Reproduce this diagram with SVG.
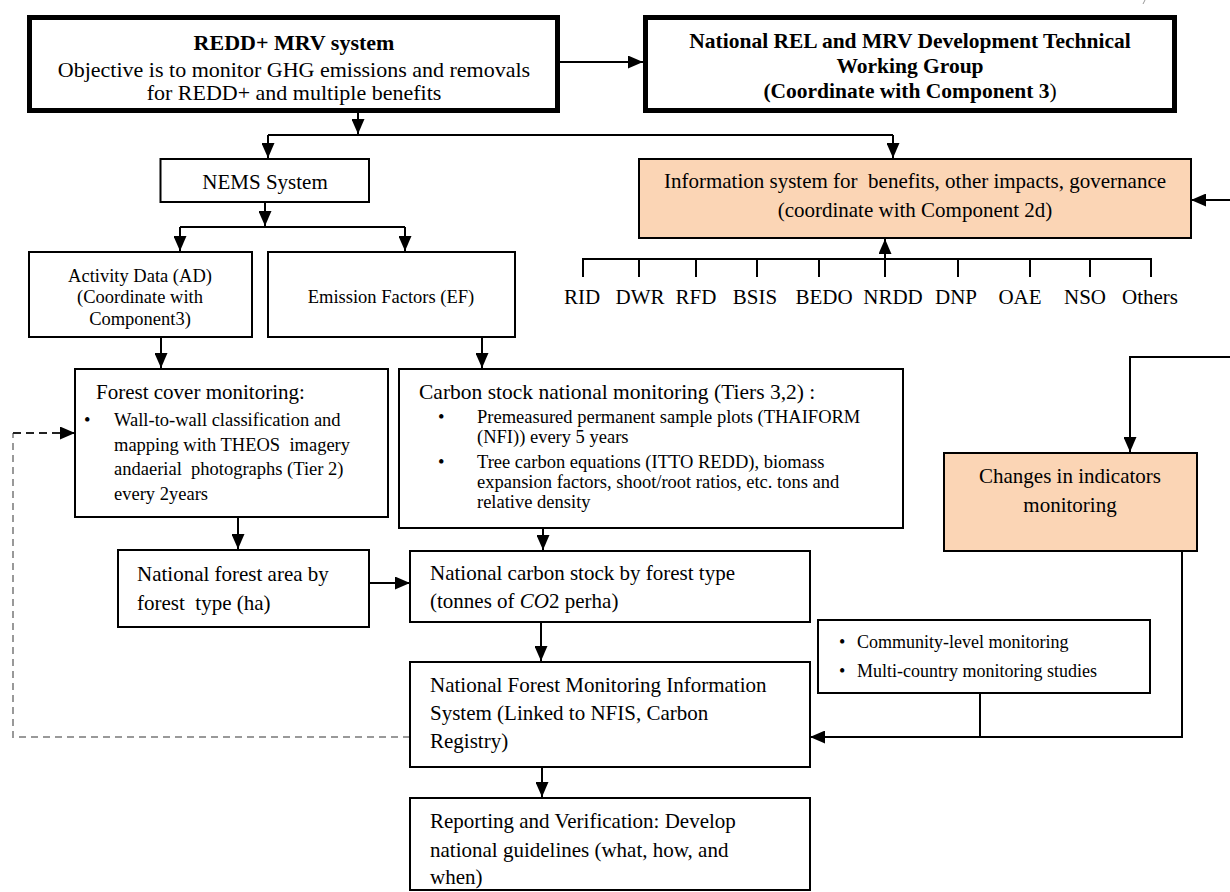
<svg xmlns="http://www.w3.org/2000/svg" width="1230" height="892" viewBox="0 0 1230 892">
  <style>
    .box { fill: #ffffff; stroke: #000000; stroke-width: 2; }
    .thick { stroke-width: 5; }
    .peach { fill: #FBD5B5; }
    .t { font-family: "Liberation Serif", "Times New Roman", serif; fill: #000000; }
    .c { text-anchor: middle; }
    .b { font-weight: bold; }
    .conn { fill: none; stroke: #000000; stroke-width: 2; }
    .arr { marker-end: url(#head); }
    .dashK { fill: none; stroke: #222222; stroke-width: 2; stroke-dasharray: 8 5; }
    .dashG { fill: none; stroke: #999999; stroke-width: 2; stroke-dasharray: 7 5; }
  </style>
  <defs>
    <marker id="head" markerUnits="userSpaceOnUse" markerWidth="15" markerHeight="13" refX="15" refY="6.5" orient="auto">
      <path d="M0,0 L15,6.5 L0,13 Z" fill="#000000"/>
    </marker>
  </defs>
  <rect width="1230" height="892" fill="#ffffff"/>

  <!-- connectors -->
  <g id="connectors">
    <!-- top row -->
    <line class="conn arr" x1="560" y1="62" x2="643" y2="62"/>
    <line class="conn arr" x1="358" y1="113" x2="358" y2="134"/>
    <line class="conn" x1="268" y1="135" x2="893" y2="135"/>
    <line class="conn arr" x1="268" y1="135" x2="268" y2="158"/>
    <line class="conn arr" x1="893" y1="135" x2="893" y2="158"/>
    <!-- NEMS split -->
    <line class="conn arr" x1="265" y1="202" x2="265" y2="226"/>
    <line class="conn" x1="180" y1="227" x2="405" y2="227"/>
    <line class="conn arr" x1="180" y1="227" x2="180" y2="251"/>
    <line class="conn arr" x1="405" y1="227" x2="405" y2="251"/>
    <!-- agencies bracket -->
    <path class="conn" d="M583,277 V259 H1151 V277 M639,259 V277 M696,259 V277 M757,259 V277 M819,259 V277 M885,259 V277 M958,259 V277 M1030,259 V277 M1090,259 V277"/>
    <line class="conn arr" x1="885" y1="259" x2="885" y2="239"/>
    <!-- into information system from the right -->
    <line class="conn arr" x1="1230" y1="200" x2="1191" y2="200"/>
    <!-- AD / EF down -->
    <line class="conn arr" x1="161" y1="337" x2="161" y2="368"/>
    <line class="conn arr" x1="482" y1="337" x2="482" y2="368"/>
    <!-- changes in indicators feed -->
    <polyline class="conn arr" points="1230,357 1130,357 1130,452"/>
    <!-- forest cover chain -->
    <line class="conn arr" x1="238" y1="517" x2="238" y2="549"/>
    <line class="conn arr" x1="369" y1="583" x2="410" y2="583"/>
    <line class="conn arr" x1="543" y1="528" x2="543" y2="550"/>
    <line class="conn arr" x1="541" y1="622" x2="541" y2="661"/>
    <line class="conn arr" x1="542" y1="767" x2="542" y2="797"/>
    <!-- monitoring inputs into NFMIS -->
    <polyline class="conn arr" points="1182,551 1182,737 810,737"/>
    <line class="conn" x1="980" y1="693" x2="980" y2="737"/>
    <!-- feedback loop (dashed) -->
    <polyline class="dashG" points="410,737 13,737 13,433"/>
    <line class="dashK" x1="13" y1="433" x2="62" y2="433"/>
    <line class="conn arr" x1="62" y1="433" x2="75" y2="433"/>
  </g>

  <g id="redd-mrv">
    <rect class="box thick" x="29.5" y="17.5" width="528" height="93"/>
    <text class="t c b" x="294" y="50" font-size="22">REDD+ MRV system</text>
    <text class="t c" x="294" y="77" font-size="22">Objective is to monitor GHG emissions and removals</text>
    <text class="t c" x="294" y="100" font-size="22">for REDD+ and multiple benefits</text>
  </g>

  <g id="twg">
    <rect class="box thick" x="645.5" y="17.5" width="529" height="93"/>
    <text class="t c b" x="910" y="48" font-size="21.5">National REL and MRV Development Technical</text>
    <text class="t c b" x="910" y="73" font-size="21.5">Working Group</text>
    <text class="t c" x="910" y="98" font-size="21.5"><tspan font-weight="bold">(Coordinate with Component 3</tspan>)</text>
  </g>
  <path d="M1145,0 L1143,4" stroke="#999999" stroke-width="1" fill="none"/>

  <g id="nems">
    <rect class="box" x="160.5" y="159" width="208.5" height="43"/>
    <text class="t c" x="265" y="189" font-size="21">NEMS System</text>
  </g>

  <g id="info-system">
    <rect class="box peach" x="639" y="159" width="552" height="79"/>
    <text class="t c" x="915" y="188" font-size="21" xml:space="preserve">Information system for  benefits, other impacts, governance</text>
    <text class="t c" x="915" y="217" font-size="21">(coordinate with Component 2d)</text>
  </g>

  <g id="agencies">
    <text class="t c" x="582" y="304" font-size="21">RID</text>
    <text class="t c" x="640" y="304" font-size="21">DWR</text>
    <text class="t c" x="696" y="304" font-size="21">RFD</text>
    <text class="t c" x="755" y="304" font-size="21">BSIS</text>
    <text class="t c" x="824" y="304" font-size="21">BEDO</text>
    <text class="t c" x="893" y="304" font-size="21">NRDD</text>
    <text class="t c" x="956" y="304" font-size="21">DNP</text>
    <text class="t c" x="1020" y="304" font-size="21">OAE</text>
    <text class="t c" x="1085" y="304" font-size="21">NSO</text>
    <text class="t c" x="1150" y="304" font-size="21">Others</text>
  </g>

  <g id="activity-data">
    <rect class="box" x="29" y="252" width="223" height="85"/>
    <text class="t c" x="140" y="282" font-size="18.5">Activity Data (AD)</text>
    <text class="t c" x="140" y="303" font-size="18.5">(Coordinate with</text>
    <text class="t c" x="140" y="325" font-size="18.5">Component3)</text>
  </g>

  <g id="emission-factors">
    <rect class="box" x="268" y="252" width="247" height="85"/>
    <text class="t c" x="391" y="303" font-size="18.5">Emission Factors (EF)</text>
  </g>

  <g id="forest-cover">
    <rect class="box" x="75" y="369" width="313" height="148"/>
    <text class="t" x="96" y="399" font-size="21">Forest cover monitoring:</text>
    <text class="t" x="84" y="426" font-size="18.5">•</text>
    <text class="t" x="114" y="426" font-size="18.5">Wall-to-wall classification and</text>
    <text class="t" x="114" y="450.5" font-size="18.5" xml:space="preserve">mapping with THEOS  imagery</text>
    <text class="t" x="114" y="475" font-size="18.5" xml:space="preserve">andaerial  photographs (Tier 2)</text>
    <text class="t" x="114" y="499.5" font-size="18.5">every 2years</text>
  </g>

  <g id="carbon-stock">
    <rect class="box" x="399" y="369" width="504" height="159"/>
    <text class="t" x="419" y="399" font-size="21.5">Carbon stock national monitoring (Tiers 3,2) :</text>
    <text class="t" x="438" y="423" font-size="18.5">•</text>
    <text class="t" x="477" y="423" font-size="18.5">Premeasured permanent sample plots (THAIFORM</text>
    <text class="t" x="477" y="443" font-size="18.5">(NFI)) every 5 years</text>
    <text class="t" x="438" y="468" font-size="18.5">•</text>
    <text class="t" x="477" y="468" font-size="18.5">Tree carbon equations (ITTO REDD), biomass</text>
    <text class="t" x="477" y="488" font-size="18.5">expansion factors, shoot/root ratios, etc. tons and</text>
    <text class="t" x="477" y="508" font-size="18.5">relative density</text>
  </g>

  <g id="indicator-changes">
    <rect class="box peach" x="944" y="453" width="253" height="98"/>
    <text class="t c" x="1070" y="483" font-size="21">Changes in indicators</text>
    <text class="t c" x="1070" y="512" font-size="21">monitoring</text>
  </g>

  <g id="forest-area">
    <rect class="box" x="118" y="550" width="251" height="77"/>
    <text class="t" x="137" y="581" font-size="21">National forest area by</text>
    <text class="t" x="137" y="610" font-size="21" xml:space="preserve">forest  type (ha)</text>
  </g>

  <g id="carbon-by-type">
    <rect class="box" x="410" y="551" width="400" height="71"/>
    <text class="t" x="430" y="580" font-size="21">National carbon stock by forest type</text>
    <text class="t" x="430" y="608" font-size="21">(tonnes of <tspan font-style="italic">CO</tspan>2 perha)</text>
  </g>

  <g id="community">
    <rect class="box" x="818" y="620" width="332" height="73"/>
    <text class="t" x="839" y="648" font-size="18">•</text>
    <text class="t" x="857" y="648" font-size="18">Community-level monitoring</text>
    <text class="t" x="839" y="677" font-size="18">•</text>
    <text class="t" x="857" y="677" font-size="18">Multi-country monitoring studies</text>
  </g>

  <g id="nfmis">
    <rect class="box" x="410" y="662" width="400" height="105"/>
    <text class="t" x="430" y="692" font-size="21">National Forest Monitoring Information</text>
    <text class="t" x="430" y="720" font-size="21">System (Linked to NFIS, Carbon</text>
    <text class="t" x="430" y="748" font-size="21">Registry)</text>
  </g>

  <g id="reporting">
    <rect class="box" x="410" y="798" width="400" height="92"/>
    <text class="t" x="430" y="828" font-size="21">Reporting and Verification: Develop</text>
    <text class="t" x="430" y="857" font-size="21">national guidelines (what, how, and</text>
    <text class="t" x="430" y="884" font-size="21">when)</text>
  </g>
</svg>
